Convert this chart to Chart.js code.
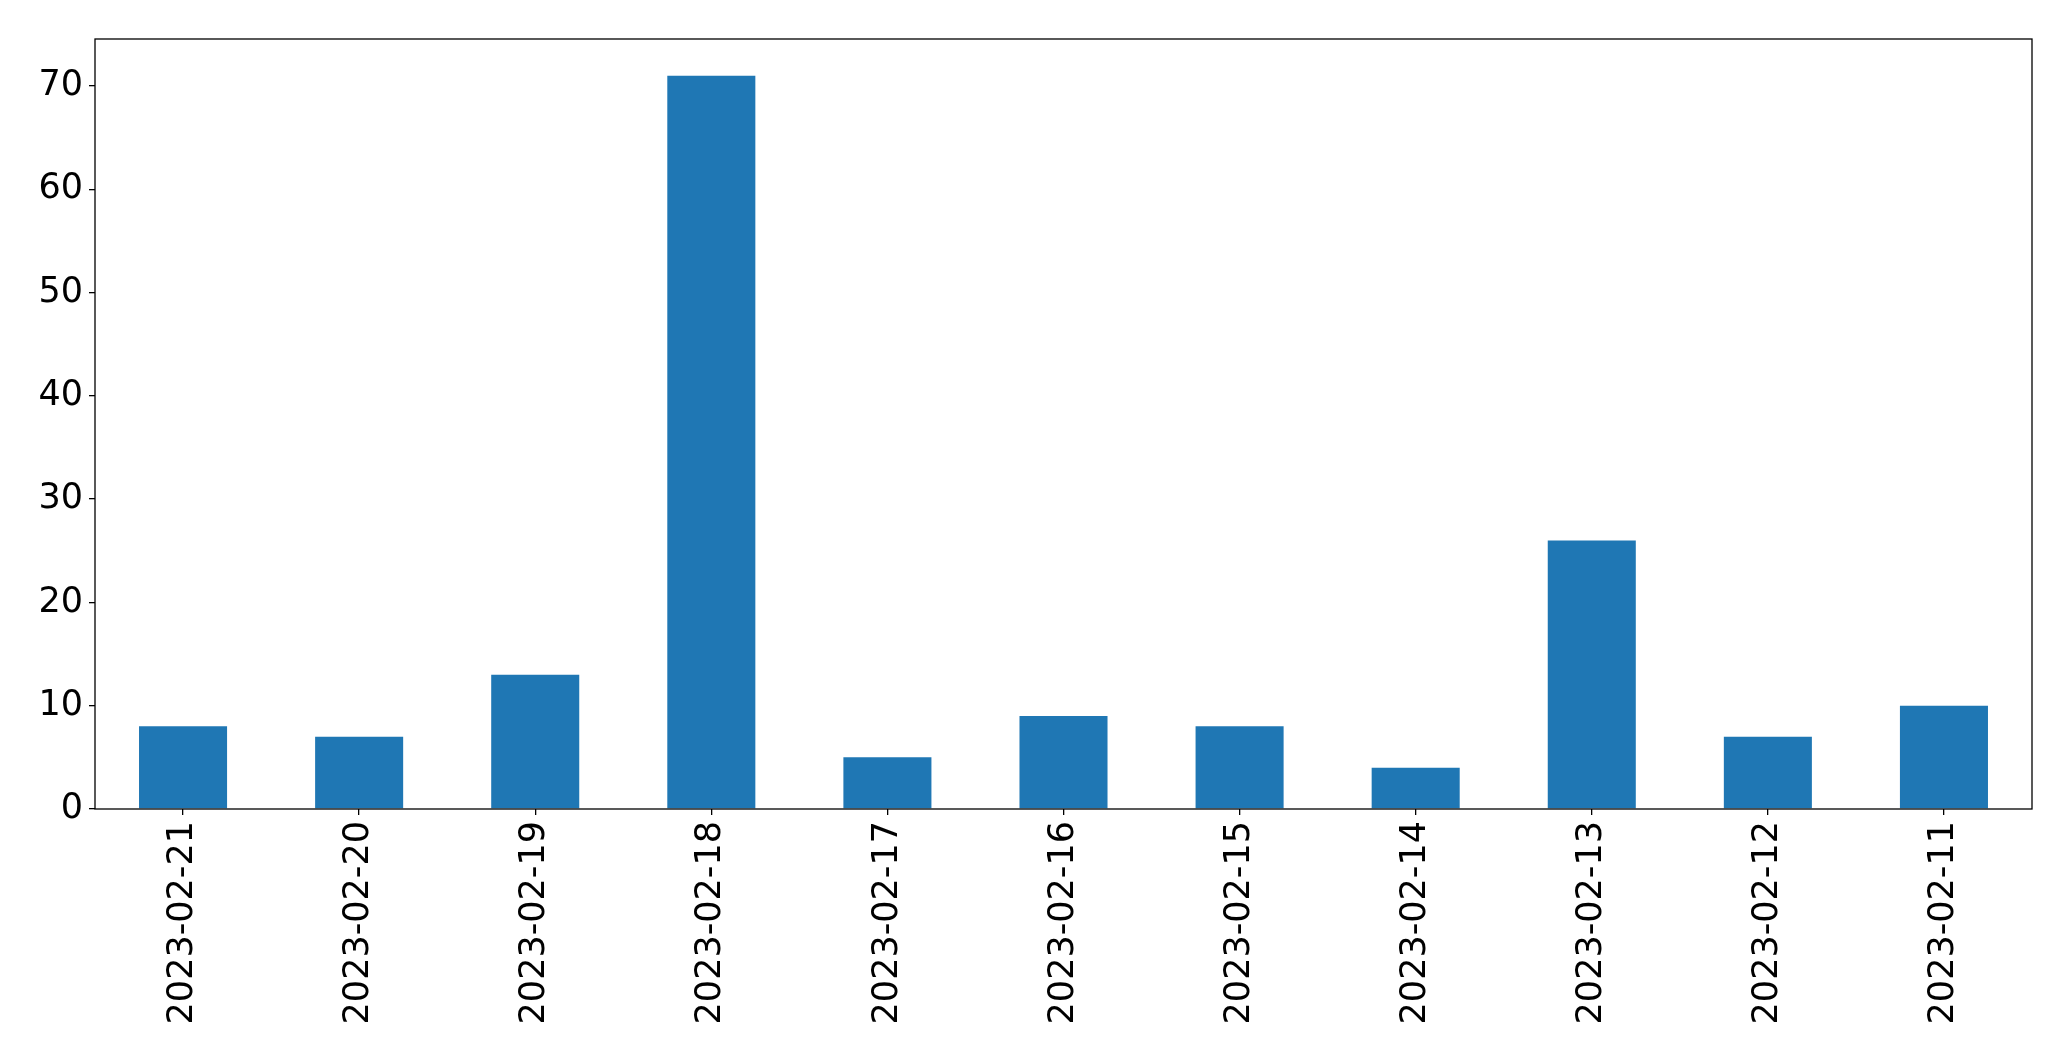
<!DOCTYPE html>
<html><head><meta charset="utf-8">
<script src="https://cdn.jsdelivr.net/npm/chart.js@4/dist/chart.umd.min.js"></script>
<style>html,body{margin:0;padding:0;background:#fff;}#wrap{width:2071px;height:1061px;}</style>
</head><body><div id="wrap"><canvas id="c" width="2071" height="1061"></canvas></div>
<script>
const categories = ["2023-02-21","2023-02-20","2023-02-19","2023-02-18","2023-02-17","2023-02-16","2023-02-15","2023-02-14","2023-02-13","2023-02-12","2023-02-11"];
const values = [8, 7, 13, 71, 5, 9, 8, 4, 26, 7, 10];
const yTickValues = [0, 10, 20, 30, 40, 50, 60, 70];
const yMax = 74.55;

const FONT = {family: "'DejaVu Sans', sans-serif", size: 35};

const boxPlugin = {
  id: 'box',
  afterDatasetsDraw(chart) {
    const a = chart.chartArea, ctx = chart.ctx;
    ctx.save();
    ctx.strokeStyle = '#000';
    ctx.lineWidth = 1.3;
    ctx.strokeRect(a.left, a.top, a.right - a.left, a.bottom - a.top);
    ctx.restore();
  }
};

new Chart(document.getElementById('c'), {
  type: 'bar',
  data: {
    labels: categories,
    datasets: [{data: values, backgroundColor: '#1f77b4', borderWidth: 0,
      categoryPercentage: 1.0, barPercentage: 0.5}]
  },
  options: {
    responsive: false,
    animation: false,
    devicePixelRatio: 1,
    layout: {padding: {top: 39, right: 39, left: 0, bottom: 0}},
    plugins: {legend: {display: false}, tooltip: {enabled: false}},
    scales: {
      x: {
        offset: true,
        grid: {display: true, offset: false, drawOnChartArea: false, drawTicks: true, tickLength: 6, color: '#000', lineWidth: 1.3},
        border: {display: false},
        ticks: {font: FONT, color: '#000', minRotation: 90, maxRotation: 90, padding: 6, autoSkip: false},
        afterFit(axis) { axis.height = 1061 - 809; }
      },
      y: {
        min: 0, max: yMax,
        grid: {display: true, drawOnChartArea: false, drawTicks: true, tickLength: 6, color: '#000', lineWidth: 1.3},
        border: {display: false},
        ticks: {font: FONT, color: '#000', padding: 6},
        afterBuildTicks(axis) { axis.ticks = yTickValues.map(v => ({value: v})); },
        afterFit(axis) { axis.width = 95; }
      }
    }
  },
  plugins: [boxPlugin]
});
</script>
</body></html>
